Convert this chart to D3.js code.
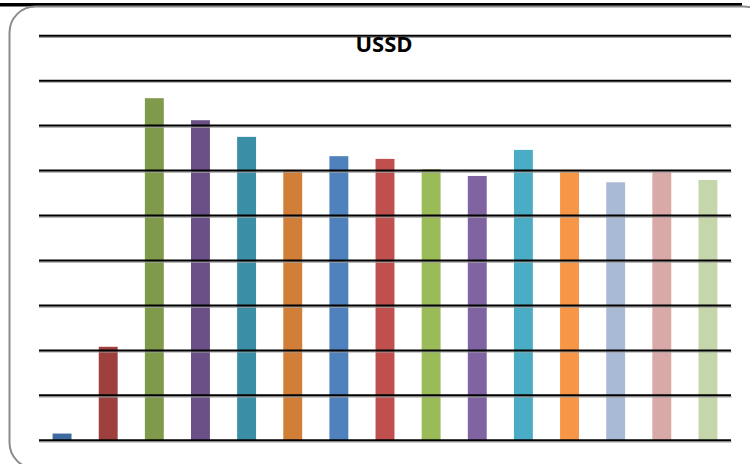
<!DOCTYPE html>
<html>
<head>
<meta charset="utf-8">
<script src="https://cdn.jsdelivr.net/npm/d3@7"></script>
<style>
  html, body { margin: 0; padding: 0; background: #fff; }
  svg { display: block; }
</style>
</head>
<body>
<svg id="chart" width="750" height="464"></svg>
<script>
// Series data: one bar per category, each with its own colour
const categories = ["1", "2", "3", "4", "5", "6", "7", "8", "9", "10", "11", "12", "13", "14", "15"];
const values = [1.5, 20.8, 76.1, 71.2, 67.5, 60.1, 63.2, 62.6, 60.3, 58.8, 64.6, 59.9, 57.4, 59.8, 57.9];
const colors = ["#3e6aa0", "#9e413e", "#7e9a4a", "#6a5087", "#3a8ea5", "#d07e38",
                "#4f81bd", "#c0504d", "#9bbb59", "#8064a2", "#4bacc6", "#f79646",
                "#a9bad7", "#d9a9a8", "#c5d6ab"];
const gridTicks = [0, 10, 20, 30, 40, 50, 60, 70, 80, 90];
const title = "USSD";

const svg = d3.select("#chart");

// Frame: dark band at the top and a rounded grey border
svg.append("rect")
  .attr("x", 0).attr("y", 3).attr("width", 742).attr("height", 3.5)
  .attr("fill", "#000");
svg.append("rect")
  .attr("x", 9.5).attr("y", 6.5).attr("width", 760).attr("height", 462)
  .attr("rx", 26).attr("ry", 26)
  .attr("fill", "none").attr("stroke", "#8c8c8c").attr("stroke-width", 2);

const x = d3.scaleBand()
  .domain(categories)
  .range([39, 731])
  .paddingInner(0.59)
  .paddingOuter(0.295);

const y = d3.scaleLinear()
  .domain([0, 90])
  .range([440.3, 35.7]);

// Bars
svg.append("g")
  .selectAll("rect")
  .data(values)
  .join("rect")
  .attr("x", (d, i) => x(categories[i]))
  .attr("width", x.bandwidth())
  .attr("y", d => y(d))
  .attr("height", d => y(0) - y(d))
  .attr("fill", (d, i) => colors[i]);

// Gridlines (drawn over the bars) with a soft grey shadow
const grid = svg.append("g");
grid.selectAll("line.shadow")
  .data(gridTicks)
  .join("line")
  .attr("class", "shadow")
  .attr("x1", 39).attr("x2", 731.5)
  .attr("y1", d => y(d) + 1.6).attr("y2", d => y(d) + 1.6)
  .attr("stroke", "#a0a0a0").attr("stroke-width", 1.2);
grid.selectAll("line.major")
  .data(gridTicks)
  .join("line")
  .attr("class", "major")
  .attr("x1", 39).attr("x2", 731)
  .attr("y1", d => y(d)).attr("y2", d => y(d))
  .attr("stroke", "#000").attr("stroke-width", 2);

// Title
svg.append("text")
  .attr("x", 384)
  .attr("y", 51.5)
  .attr("text-anchor", "middle")
  .attr("font-family", "'Open Sans', 'DejaVu Sans', sans-serif")
  .attr("font-weight", "bold")
  .attr("font-size", 22)
  .attr("fill", "#000")
  .text(title);
</script>
</body>
</html>
